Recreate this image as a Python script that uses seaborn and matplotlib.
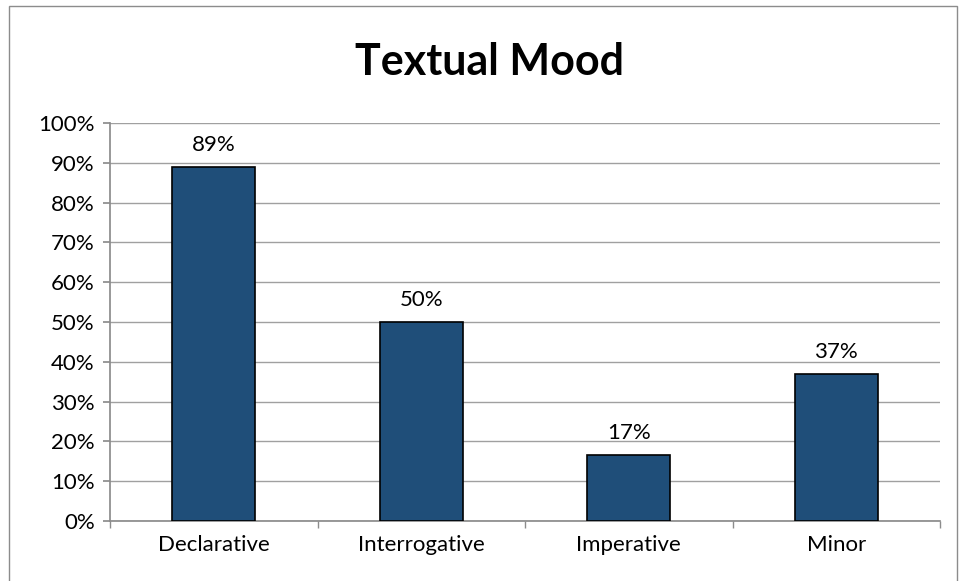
import matplotlib
matplotlib.use("Agg")
import matplotlib.pyplot as plt
import seaborn as sns
import pandas as pd
from matplotlib.patches import Rectangle
from matplotlib.ticker import MultipleLocator, PercentFormatter

categories = ["Declarative", "Interrogative", "Imperative", "Minor"]
shares = [0.89, 0.50, 0.167, 0.37]
bar_labels = ["89%", "50%", "17%", "37%"]

df = pd.DataFrame({"mood": categories, "share": shares})

sns.set_theme(style="white")
plt.rcParams["font.family"] = ["Lato", "DejaVu Sans"]
plt.rcParams["text.color"] = "black"

fig = plt.figure(figsize=(9.59, 5.81), dpi=100)
ax = fig.add_axes([110 / 959, 60 / 581, 830 / 959, 398 / 581])

sns.barplot(data=df, x="mood", y="share", color="#1F4E79", width=0.4,
            edgecolor="black", linewidth=1.2, saturation=1, ax=ax, zorder=3)

for i, (v, lab) in enumerate(zip(shares, bar_labels)):
    ax.text(i, v + 0.03, lab, ha="center", va="bottom", fontsize=16,
            color="black")

ax.set_ylim(0, 1)
ax.set_xlim(-0.5, 3.5)
ax.yaxis.set_major_locator(MultipleLocator(0.1))
ax.yaxis.set_major_formatter(PercentFormatter(1.0, decimals=0))
ax.grid(axis="y", color="#A0A0A0", linewidth=1, zorder=0)
ax.set_axisbelow(True)
for side in ["top", "right"]:
    ax.spines[side].set_visible(False)
ax.spines["left"].set_color("#8C8C8C")
ax.spines["bottom"].set_color("#8C8C8C")
ax.set_xticks([-0.5, 0.5, 1.5, 2.5, 3.5], minor=True)
ax.tick_params(axis="x", which="major", length=0, labelsize=16, pad=10,
               colors="black")
ax.tick_params(axis="x", which="minor", length=5, color="#8C8C8C",
               direction="out", bottom=True)
ax.tick_params(axis="y", length=5, color="#8C8C8C", direction="out",
               labelsize=16, left=True, pad=6)
ax.tick_params(axis="y", colors="#8C8C8C", labelcolor="black")
ax.set_xlabel("")
ax.set_ylabel("")

fig.text(489 / 959, 1 - 62 / 581, "Textual Mood", ha="center", va="center",
         fontsize=31, fontweight="bold", color="black")

fig.add_artist(Rectangle((9 / 959, -0.01), 948 / 959, 1.0, transform=fig.transFigure,
                         fill=False, edgecolor="#8C8C8C", linewidth=1))

fig.savefig("out.png", dpi=100)
